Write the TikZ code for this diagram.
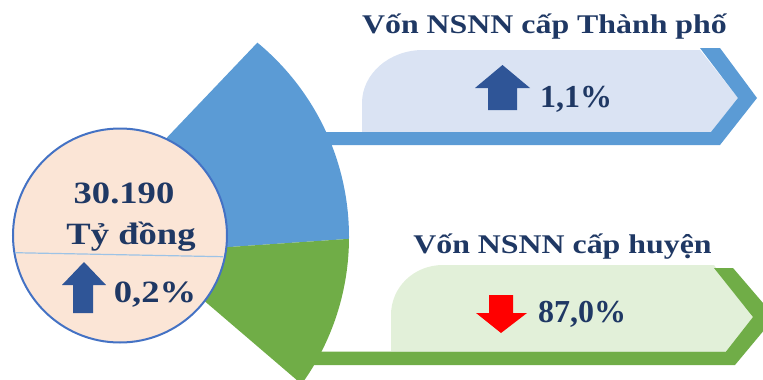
\documentclass[tikz,border=0pt]{standalone}
\usepackage{fontspec}
\setmainfont{Liberation Serif}[FakeStretch=1.18]
\newfontfamily\plainserif{Liberation Serif}
\usetikzlibrary{calc}
\definecolor{fanblue}{HTML}{5B9BD5}
\definecolor{fangreen}{HTML}{70AD47}
\definecolor{boxblue}{HTML}{DAE3F3}
\definecolor{boxgreen}{HTML}{E2F0D9}
\definecolor{navy}{HTML}{1F3864}
\definecolor{arrowblue}{HTML}{2F5597}
\definecolor{circfill}{HTML}{FBE5D6}
\definecolor{circline}{HTML}{4472C4}
\definecolor{divline}{HTML}{9DC3E6}
\begin{document}
\begin{tikzpicture}[x=1pt,y=-1pt,
  titletext/.style={font=\bfseries\fontsize{27}{30}\selectfont, text=navy, anchor=base, inner sep=0pt},
  bigtext/.style={font=\bfseries\fontsize{31}{34}\selectfont, text=navy, anchor=base, inner sep=0pt},
  pcttext/.style={font=\plainserif\bfseries\fontsize{32}{34}\selectfont, text=navy, anchor=base, inner sep=0pt}]
\useasboundingbox (0,0) rectangle (763,380);
\begin{scope}
\clip (0,0) rectangle (763,380);
% light boxes
\fill[boxblue] (362,132) -- (362,103) .. controls (362,74) and (389,50) .. (423,50)
  -- (700,50) -- (738,98) -- (711,132) -- cycle;
\fill[boxgreen] (391,351) -- (391,315) .. controls (391,287) and (414,265) .. (443,265)
  -- (714,265) -- (753,317) -- (726,351) -- cycle;
% bands with chevrons
\fill[fanblue] (300,132) -- (711,132) -- (738,98) -- (700,48) -- (720,48) -- (757,98)
  -- (720,145) -- (300,145) -- cycle;
\fill[fangreen] (300,351.5) -- (726,351.5) -- (753,317) -- (714,268) -- (733,268) -- (775,317)
  -- (735,365) -- (300,365) -- cycle;
% fan
\begin{scope}
  \clip (97,211) -- ($(97,211)!1.5!(258,42)$) -- (450,-43) -- (450,232) -- (97,256) -- cycle;
  \fill[fanblue] (97,237) circle[radius=252];
\end{scope}
\begin{scope}
  \clip (97,256) -- (450,232) -- (450,500) -- (437,500) -- (97,209) -- cycle;
  \fill[fangreen] (97,237) circle[radius=252];
\end{scope}
\end{scope}
% central circle
\node[circle, draw=circline, line width=2pt, fill=circfill, minimum size=214pt, inner sep=0pt]
  (disc) at (120,235.5) {};
\draw[divline, line width=1.2pt] (15,252.7) -- (223,256.7);
% arrows
\fill[arrowblue] (84,262) -- (106,285) -- (93,285) -- (93,313) -- (73,313) -- (73,285) -- (62,285) -- cycle;
\fill[arrowblue] (502.5,65) -- (530,88) -- (517,88) -- (517,110) -- (488,110) -- (488,88) -- (475,88) -- cycle;
\fill[red] (501,333) -- (527,313) -- (513,313) -- (513,295) -- (489,295) -- (489,313) -- (476,313) -- cycle;
% texts
\node[bigtext] (total) at (124,203) {30.190};
\node[bigtext] (unit) at (131,244) {Tỷ đồng};
\node[bigtext] (pct) at (155,302) {0,2\%};
\node[titletext] (t1) at (544.5,33) {Vốn NSNN cấp Thành phố};
\node[titletext] (t2) at (562.5,253) {Vốn NSNN cấp huyện};
\node[pcttext] (p1) at (576,107) {1,1\%};
\node[pcttext] (p2) at (582,322) {87,0\%};
\end{tikzpicture}
\end{document}
